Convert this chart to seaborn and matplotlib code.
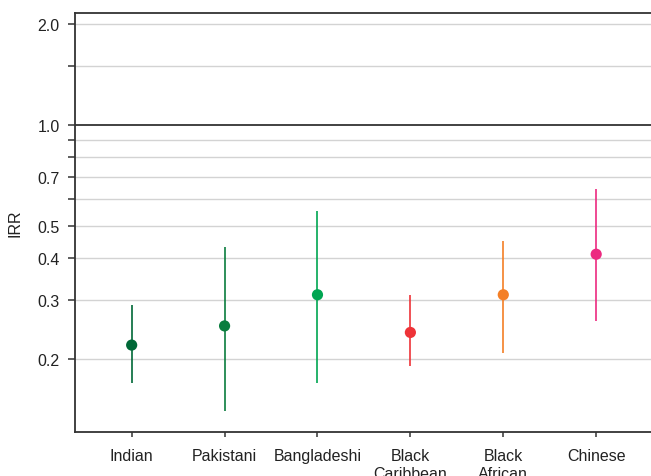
import matplotlib
matplotlib.use("Agg")
import matplotlib.pyplot as plt
from matplotlib.ticker import FixedLocator, FixedFormatter, NullLocator
import seaborn as sns
import pandas as pd

groups = ["Indian", "Pakistani", "Bangladeshi", "Black\nCaribbean", "Black\nAfrican", "Chinese"]
irr = [0.220, 0.251, 0.311, 0.240, 0.311, 0.411]
lower = [0.170, 0.140, 0.170, 0.190, 0.209, 0.259]
upper = [0.290, 0.432, 0.554, 0.311, 0.451, 0.643]
colors = ["#006837", "#0a7d3e", "#00a551", "#ee3338", "#f47f26", "#ec2a80"]
tick_vals = [0.2, 0.3, 0.4, 0.5, 0.6, 0.7, 0.8, 0.9, 1.0, 1.5, 2.0]
tick_labels = ["0.2", "0.3", "0.4", "0.5", "", "0.7", "", "", "1.0", "", "2.0"]

df = pd.DataFrame({"group": groups, "irr": irr, "lower": lower, "upper": upper})
df["x"] = range(len(groups))

sns.set_style("white")
plt.rcParams["font.family"] = ["Liberation Sans", "DejaVu Sans"]

fig = plt.figure(figsize=(6.51, 4.77), dpi=100)
ax = fig.add_axes([75 / 651, 44 / 477, 1 - 75 / 651, (433 - 14) / 477])
ax.set_yscale("log")

for y in tick_vals:
    if y == 1.0:
        ax.axhline(y, color="#333333", lw=1.3, zorder=1)
    else:
        ax.axhline(y, color="#d3d3d3", lw=1.0, zorder=0)

for i, row in df.iterrows():
    ax.vlines(row["x"], row["lower"], row["upper"], color=colors[i], lw=1.2, zorder=2)

sns.scatterplot(data=df, x="x", y="irr", hue="group", palette=colors, s=65,
                edgecolor="none", legend=False, ax=ax, zorder=3)

ax.set_xlim(-0.61, 5.59)
ax.set_ylim(0.121, 2.16)
ax.yaxis.set_major_locator(FixedLocator(tick_vals))
ax.yaxis.set_major_formatter(FixedFormatter(tick_labels))
ax.yaxis.set_minor_locator(NullLocator())
ax.set_xticks(df["x"])
ax.set_xticklabels(groups, linespacing=1.25)
ax.tick_params(axis="y", length=5, width=1.1, color="#333333", labelsize=11.5,
               labelcolor="#222222", left=True, pad=6)
ax.tick_params(axis="x", length=3.5, width=1.1, color="#333333", labelsize=11.5,
               labelcolor="#222222", bottom=True, pad=8)
ax.set_xlabel("")
ax.set_ylabel("IRR", fontsize=11.5, color="#222222", labelpad=11)

for s in ["left", "bottom", "top"]:
    ax.spines[s].set_color("#333333")
    ax.spines[s].set_linewidth(1.3)
ax.spines["right"].set_visible(False)

fig.savefig("out.png", dpi=100)
